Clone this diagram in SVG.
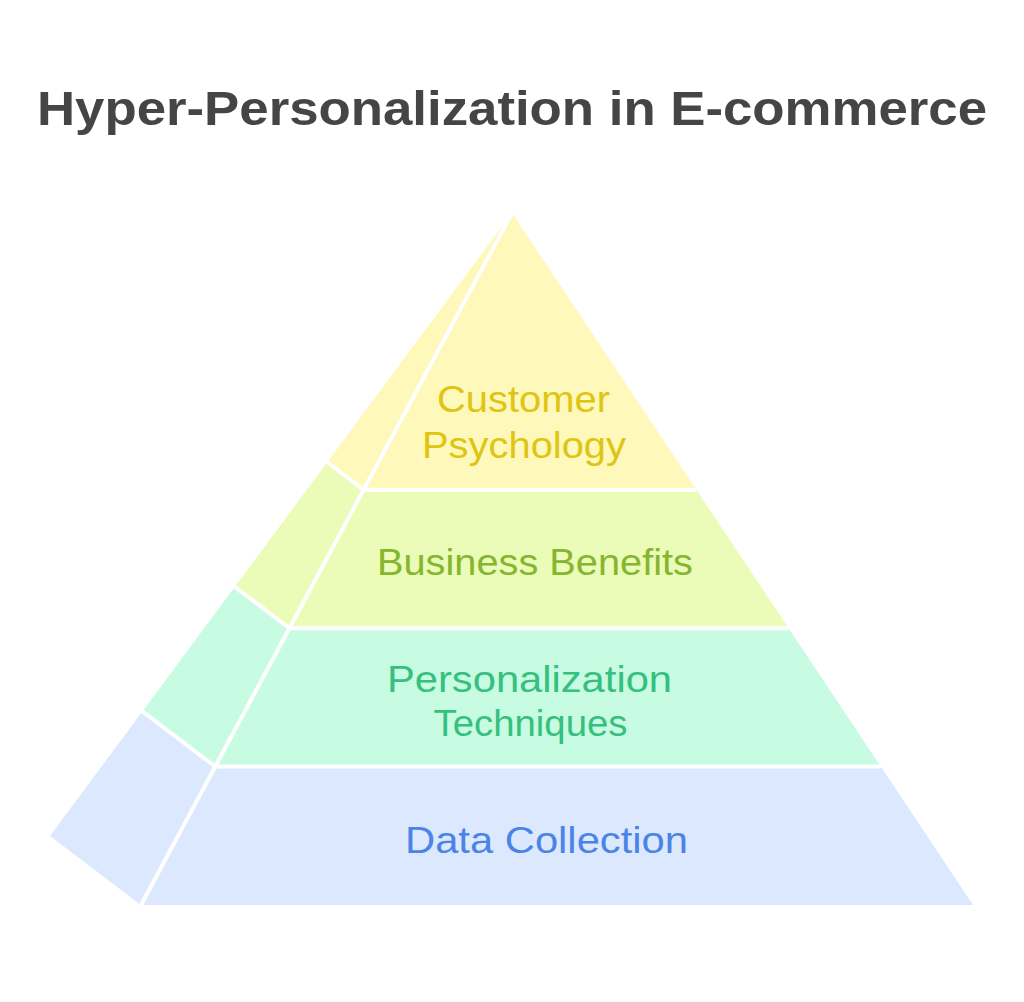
<svg xmlns="http://www.w3.org/2000/svg" width="1024" height="1002" viewBox="0 0 1024 1002">
<style>
  .l1 { fill: #FEF8BA; }
  .l2 { fill: #EAFCB8; }
  .l3 { fill: #C8FCE2; }
  .l4 { fill: #DCE8FD; }
  .sep { fill: none; stroke: #ffffff; stroke-width: 4; stroke-linejoin: miter; stroke-linecap: butt; }
  .lbl { font-family: "Liberation Sans", "Noto Sans", sans-serif; font-size: 37px; text-anchor: middle; }
  .title { font-family: "Liberation Sans", "Noto Sans", sans-serif; font-size: 48px; font-weight: bold; fill: #454545; text-anchor: middle; }
</style>
<rect width="1024" height="1002" fill="#ffffff"/>
<text class="title" x="512" y="125" textLength="950" lengthAdjust="spacingAndGlyphs">Hyper-Personalization in E-commerce</text>

<g id="layer-customer-psychology">
  <polygon class="l1" points="512,213 327.2,462.2 363.6,489.8"/>
  <polygon class="l1" points="512,213 696.4,489.8 363.6,489.8"/>
</g>

<g id="layer-business-benefits">
  <polygon class="l2" points="327.2,462.2 363.6,489.8 289.4,628.2 234.8,586.8"/>
  <polygon class="l2" points="363.6,489.8 696.4,489.8 788.6,628.2 289.4,628.2"/>
</g>

<g id="layer-personalization-techniques">
  <polygon class="l3" points="234.8,586.8 289.4,628.2 215.2,766.6 142.4,711.4"/>
  <polygon class="l3" points="289.4,628.2 788.6,628.2 880.8,766.6 215.2,766.6"/>
</g>

<g id="layer-data-collection">
  <polygon class="l4" points="142.4,711.4 215.2,766.6 141,905 50,836"/>
  <polygon class="l4" points="215.2,766.6 880.8,766.6 973,905 141,905"/>
</g>

<g id="separators">
  <line class="sep" x1="512" y1="213" x2="141" y2="905"/>
  <polyline class="sep" points="327.2,462.2 363.6,489.8 696.4,489.8"/>
  <polyline class="sep" points="234.8,586.8 289.4,628.2 788.6,628.2"/>
  <polyline class="sep" points="142.4,711.4 215.2,766.6 880.8,766.6"/>
</g>

<g id="labels">
  <text class="lbl" fill="#DFC512" x="523.5" y="412" textLength="173" lengthAdjust="spacingAndGlyphs">Customer</text>
  <text class="lbl" fill="#DFC512" x="524" y="458" textLength="204" lengthAdjust="spacingAndGlyphs">Psychology</text>
  <text class="lbl" fill="#86B52E" x="535" y="575" textLength="316" lengthAdjust="spacingAndGlyphs">Business Benefits</text>
  <text class="lbl" fill="#35C07E" x="529.5" y="692" textLength="285" lengthAdjust="spacingAndGlyphs">Personalization</text>
  <text class="lbl" fill="#35C07E" x="530.5" y="736" textLength="194" lengthAdjust="spacingAndGlyphs">Techniques</text>
  <text class="lbl" fill="#4A84E6" x="546.5" y="853" textLength="283" lengthAdjust="spacingAndGlyphs">Data Collection</text>
</g>

<g id="connectors"></g>
</svg>
